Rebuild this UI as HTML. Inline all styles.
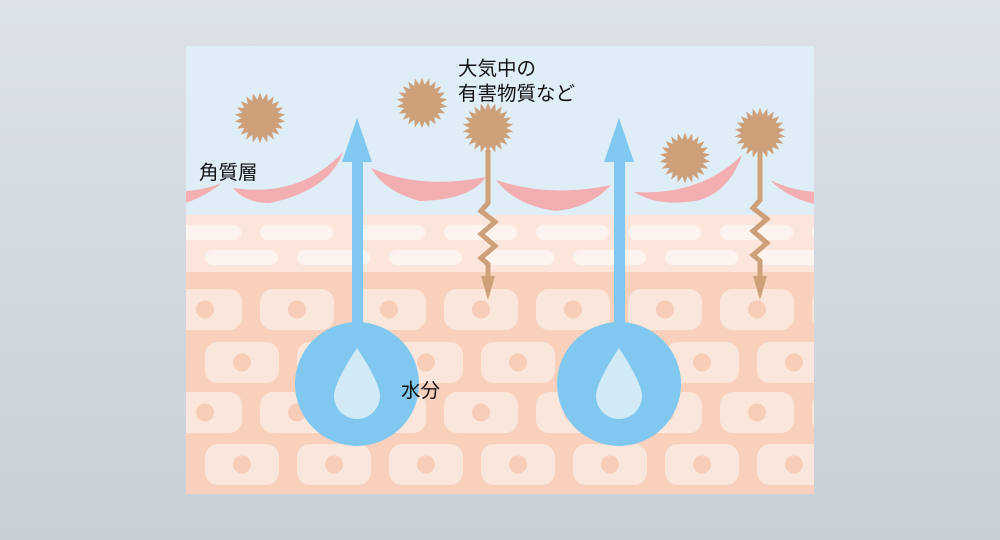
<!DOCTYPE html>
<html><head><meta charset="utf-8"><style>
html,body{margin:0;padding:0;width:1000px;height:540px;overflow:hidden;background:linear-gradient(#dde2ea,#c8cfd7);}
svg{position:absolute;left:0;top:0}
text{font-family:"Liberation Sans","Noto Sans CJK JP",sans-serif;font-size:19.5px;fill:#111}
</style></head><body>
<svg id="s" width="1000" height="540" viewBox="0 0 1000 540">
<defs>
<clipPath id="cp"><rect x="186" y="46" width="628" height="448"/></clipPath>
</defs>
<g clip-path="url(#cp)">
<rect x="186" y="46" width="628" height="448" fill="#dfedf7"/>
<rect x="186" y="215" width="628" height="58" fill="#fce5da"/>
<rect x="186" y="272" width="628" height="222" fill="#f8d0bb"/>
<g id="cells"></g>
<g fill="#f3aeb1">
<path d="M178 192 Q205 190 222 183 Q200 200 178 205 Z"/>
<path d="M233 188 Q300 198 343 152 Q330 190 270 203 Q245 203 233 188 Z"/>
<path d="M371 168 Q420 190 486 177 Q470 200 420 201 Q385 192 371 168 Z"/>
<path d="M496 180 Q550 198 611 185 Q590 208 555 211 Q515 205 496 180 Z"/>
<path d="M634 192 Q700 196 742 155 Q730 190 700 200 Q660 208 634 192 Z"/>
<path d="M770 180 Q795 192 820 192 L820 205 Q790 200 770 180 Z"/>
</g>
<g stroke="#cda07a" stroke-width="5" fill="none" stroke-linejoin="miter">
<polyline points="488,150 488,203 481,211 495,222 481,234 495,246 481,258 488,264 488,278"/>
<polyline points="760,150 760,200 753,208 767,219 753,231 767,243 753,255 760,261 760,278"/>
</g>
<g fill="#cda07a">
<polygon points="481,276 495,276 488,300"/>
<polygon points="753,276 767,276 760,300"/>
</g>
<g id="stars" fill="#cda07a"></g>
<g fill="#80c8ef">
<rect x="352" y="160" width="11" height="170"/>
<polygon points="357,118 342,162 372,162"/>
<circle cx="357" cy="384" r="62"/>
<rect x="614" y="160" width="11" height="170"/>
<polygon points="619,118 604,162 634,162"/>
<circle cx="619" cy="384" r="62"/>
</g>
<g fill="#d2e9f6">
<path d="M357 348 Q334 383 334 396 A23 23 0 0 0 380 396 Q380 383 357 348 Z"/>
<path d="M619 348 Q596 383 596 396 A23 23 0 0 0 642 396 Q642 383 619 348 Z"/>
</g>
</g>
<text x="458" y="75">大気中の</text>
<text x="458" y="100">有害物質など</text>
<text x="199" y="179">角質層</text>
<text x="401" y="397">水分</text>
</svg>
<script>
(function(){
var ns="http://www.w3.org/2000/svg";
var cells=document.getElementById("cells");
function add(parent,tag,attrs){var e=document.createElementNS(ns,tag);for(var k in attrs)e.setAttribute(k,attrs[k]);parent.appendChild(e);return e;}
[[225,168],[250,205]].forEach(function(r){for(var x=r[1];x<830;x+=92){add(cells,"rect",{x:x,y:r[0],width:73,height:15,rx:7.5,fill:"#fdf3ef"});}});
[[289,168],[342,205],[392,168],[444,205]].forEach(function(r){for(var x=r[1];x<830;x+=92){add(cells,"rect",{x:x,y:r[0],width:74,height:41,rx:13,fill:"#fbe6dc"});add(cells,"circle",{cx:x+37,cy:r[0]+20.5,r:9,fill:"#f8cdb7"});}});
var st=document.getElementById("stars");
[[260,118],[422,103],[488,128],[685,158],[760,133]].forEach(function(c){
var n=22,pts=[];for(var i=0;i<2*n;i++){var a=i*Math.PI/n;var r=(i%2==0)?25.5:18.5;pts.push((c[0]+r*Math.sin(a)).toFixed(1)+","+(c[1]-r*Math.cos(a)).toFixed(1));}
add(st,"polygon",{points:pts.join(" ")});});
})();
</script>
</body></html>
